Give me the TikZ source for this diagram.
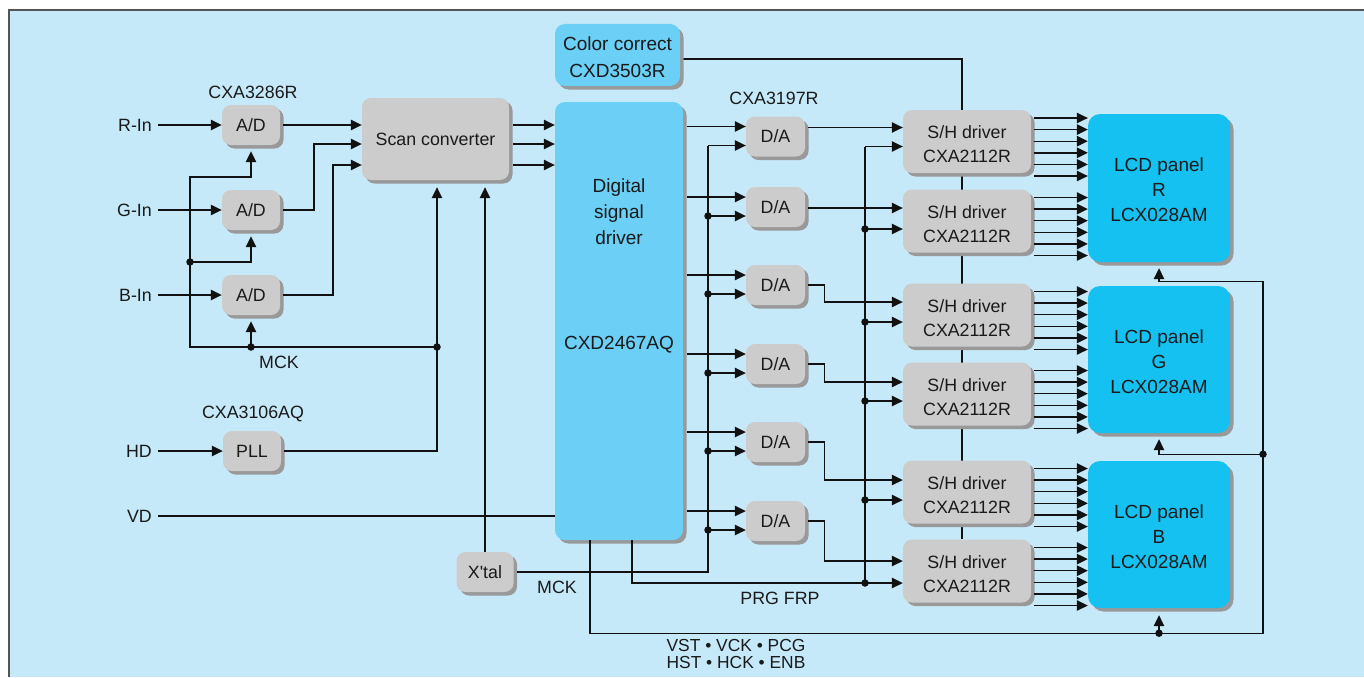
\documentclass[tikz,border=0pt]{standalone}
\usepackage{fontspec}
\setmainfont{Liberation Sans}
\usetikzlibrary{arrows.meta,calc,shadows}
\definecolor{bgblue}{HTML}{C6E9F9}
\definecolor{bordc}{HTML}{555555}
\definecolor{boxg}{HTML}{CCCCCC}
\definecolor{shd}{HTML}{999999}
\definecolor{dsdc}{HTML}{6BCFF6}
\definecolor{lcdc}{HTML}{14C1F1}
\definecolor{txt}{HTML}{1A1A1A}
\definecolor{lnc}{HTML}{111111}
\pgfdeclarelayer{back}
\pgfdeclarelayer{bg}
\pgfsetlayers{back,bg,main}
\begin{document}
\begin{tikzpicture}[x=1pt,y=-1pt,
  font=\fontsize{17.8}{24}\selectfont, text=txt,
  every node/.style={inner sep=0pt},
  shad/.style={drop shadow={shadow xshift=3.5pt,shadow yshift=-3.5pt,fill=shd,opacity=1}},
  gbox/.style={shad, fill=boxg, rounded corners=9pt, align=center},
  bbox/.style={shad, fill=dsdc, rounded corners=10pt, align=center},
  lbox/.style={shad, fill=lcdc, rounded corners=12pt},
  big/.style={font=\fontsize{19}{25}\selectfont, align=center},
  ln/.style={draw=lnc, line width=1.4pt},
  arr/.style={ln, -{Triangle[length=11pt,width=10.5pt]}},
  dot/.style={circle, fill=lnc, minimum size=7.5pt}]
\useasboundingbox (0,0) rectangle (1364,677);
\begin{pgfonlayer}{back}
  \fill[white] (0,0) rectangle (1364,677);
  \fill[bgblue] (9,10) rectangle (1364,677);
  \draw[bordc, line width=2pt] (9,677) -- (9,10) -- (1364,10);
\end{pgfonlayer}

% ---- boxes
\node[gbox, minimum width=58, minimum height=40] (adR) at (251,125) {A/D};
\node[gbox, minimum width=58, minimum height=40] (adG) at (251,210) {A/D};
\node[gbox, minimum width=58, minimum height=40] (adB) at (251,295) {A/D};
\node[gbox, minimum width=58, minimum height=40] (pll) at (252,451) {PLL};
\node[gbox, minimum width=57, minimum height=40] (xtal) at (485,572) {X\textquotesingle tal};
\node[gbox, minimum width=147, minimum height=82] (sc) at (435.5,139) {Scan converter};
\node[bbox, minimum width=128, minimum height=438] (dsd) at (619,321) {};
\node[bbox, minimum width=125, minimum height=62] (cc) at (617.5,55) {};
\foreach \i/\y in {1/136.5,2/207,3/285,4/364,5/442,6/521}
  \node[gbox, minimum width=59, minimum height=40] (da\i) at (775.5,\y) {D/A};
\foreach \i/\y in {1/141.5,2/221,3/315,4/394,5/492,6/571} {
  \node[gbox, minimum width=128, minimum height=63] (sh\i) at (967,\y) {};
  \node[align=center] (sht\i) at ($(sh\i)+(0,3)$) {S/H driver\\CXA2112R};
}
\node[lbox, minimum width=142, minimum height=148] (lcdR) at (1159,188) {};
\node[lbox, minimum width=142, minimum height=147] (lcdG) at (1159,359.5) {};
\node[lbox, minimum width=142, minimum height=147] (lcdB) at (1159,534.5) {};

% ---- texts
\node[big] (ct) at ($(cc)+(0,2.5)$) {Color correct\\[2pt]CXD3503R};
\node[big] (lt1) at ($(lcdR)+(0,2)$) {LCD panel\\R\\LCX028AM};
\node[big] (lt2) at ($(lcdG)+(0,2)$) {LCD panel\\G\\LCX028AM};
\node[big] (lt3) at ($(lcdB)+(0,2)$) {LCD panel\\B\\LCX028AM};
\node[big, font=\fontsize{19}{26}\selectfont] (dt1) at (619,212) {Digital\\signal\\driver};
\node[big] (dt2) at (619,345) {CXD2467AQ};
\node (l1) at (253,92) {CXA3286R};
\node (l2) at (253,414) {CXA3106AQ};
\node (l3) at (774,98) {CXA3197R};
\node (l4) at (279,362) {MCK};
\node (l5) at (557,587) {MCK};
\node (l6) at (780,598) {PRG FRP};
\node[align=center, font=\fontsize{17.4}{17}\selectfont] (l7) at (736,654.5) {VST • VCK • PCG\\HST • HCK • ENB};
\node[anchor=east] (rin) at (152,125) {R-In};
\node[anchor=east] (gin) at (152,210) {G-In};
\node[anchor=east] (bin) at (152,295) {B-In};
\node[anchor=east] (hd) at (152,451) {HD};
\node[anchor=east] (vd) at (152,516) {VD};

% ---- inputs
\draw[arr] ([xshift=6pt]rin.east) -- (rin.east -| adR.west);
\draw[arr] ([xshift=6pt]gin.east) -- (gin.east -| adG.west);
\draw[arr] ([xshift=6pt]bin.east) -- (bin.east -| adB.west);
\draw[arr] ([xshift=6pt]hd.east) -- (hd.east -| pll.west);
\draw[ln] ([xshift=6pt]vd.east) -- (vd.east -| dsd.west);

% ---- A/D -> scan converter
\coordinate (g1) at (314,0);
\coordinate (b1) at (333,0);
\coordinate (sc2) at ($(sc.west)+(0,5)$);
\coordinate (sc3) at ($(sc.west)+(0,26)$);
\draw[arr] ([xshift=3pt]adR.east) -- (adR.east -| sc.west);
\draw[arr] ([xshift=3pt]adG.east) -| (sc2 -| g1) -- (sc2);
\draw[arr] ([xshift=3pt]adB.east) -| (sc3 -| b1) -- (sc3);

% ---- scan converter -> DSD
\foreach \o in {-14,5,26} {
  \coordinate (t) at ($(sc.east)+(4,\o)$);
  \draw[arr] (t) -- (t -| dsd.west);
}

% ---- MCK clock
\coordinate (j1) at (437,347);
\coordinate (mb) at (190,347);
\coordinate (mt) at (190,177);
\coordinate (mm) at (190,262);
\coordinate (sck) at ($(sc.south)+(1.5,7)$);
\draw[arr] (j1) -- (mb) -- (mt) -| ($(adR.south)+(0,6)$);
\draw[arr] (mm) -| ($(adG.south)+(0,6)$);
\draw[arr] (adB.south |- j1) -- ($(adB.south)+(0,6)$);
\draw[arr] ([xshift=3pt]pll.east) -| (sck);
\draw[arr] (xtal.north) -- (xtal.north |- sck);
\node[dot] (dm1) at (mm) {};
\node[dot] (dm2) at (adB.south |- j1) {};
\node[dot] (dm3) at (j1) {};

% ---- D/A inputs
\coordinate (bA) at (708,0);
\foreach \i in {1,...,6} {
  \coordinate (dau\i) at ($(da\i.west)+(0,-10)$);
  \coordinate (dal\i) at ($(da\i.west)+(0,9)$);
}
\draw[ln] ([xshift=3pt]xtal.east) -| (dal1 -| bA);
\foreach \i in {1,...,6} {
  \draw[arr] (dal\i -| bA) -- (dal\i);
  \draw[arr] ($(dau\i -| dsd.east)+(4,0)$) -- (dau\i);
}
\foreach \i in {2,...,6} \node[dot] (dA\i) at (dal\i -| bA) {};

% ---- D/A -> S/H
\foreach \i/\u/\l in {1/-14/5,2/-13/8,3/-13/7,4/-12/7,5/-12/8,6/-10/12} {
  \coordinate (shu\i) at ($(sh\i.west)+(0,\u)$);
  \coordinate (shl\i) at ($(sh\i.west)+(0,\l)$);
}
\draw[arr] ($(shu1 -| da1.east)+(3,0)$) -- (shu1);
\draw[arr] ($(shu2 -| da2.east)+(3,0)$) -- (shu2);
\foreach \i in {3,...,6} \draw[arr] ([xshift=3pt]da\i.east) -- ++(16,0) |- (shu\i);

% ---- PRG FRP bus
\coordinate (bS) at (865,0);
\coordinate (prg) at ($(dsd.south)+(13,0)$);
\draw[arr] (prg) |- (shl6);
\draw[ln] (shl1 -| bS) -- (shl6 -| bS);
\foreach \i in {1,...,5} \draw[arr] (shl\i -| bS) -- (shl\i);
\foreach \i in {2,...,6} \node[dot] (dS\i) at (shl\i -| bS) {};

% ---- S/H -> LCD
\foreach \s/\l in {sh1/lcdR,sh2/lcdR,sh3/lcdG,sh4/lcdG,sh5/lcdB,sh6/lcdB} {
  \foreach \k in {0,...,5} {
    \coordinate (q) at ($(\s.east)+(3,-23.5+11.6*\k)$);
    \draw[arr] (q) -- (q -| \l.west);
  }
}

% ---- panel timing
\coordinate (vb) at ($(dsd.south)+(-29,0)$);
\coordinate (rx) at (1263,0);
\coordinate (cR) at ($(lcdR.south)+(0,19)$);
\coordinate (cG) at ($(lcdG.south)+(0,21)$);
\coordinate (cB) at ($(lcdB.south)+(0,25)$);
\draw[arr] (vb) |- (cB -| rx) |- (cR) -- ($(lcdR.south)+(0,6)$);
\draw[arr] (cG -| rx) -- (cG) -- ($(lcdG.south)+(0,6)$);
\draw[arr] (cB) -- ($(lcdB.south)+(0,7)$);
\node[dot] (dL1) at (cG -| rx) {};
\node[dot] (dL2) at (cB) {};

% ---- color correct line (behind S/H drivers)
\begin{pgfonlayer}{bg}
  \coordinate (shx) at (962,0);
  \coordinate (ce) at ($(cc.east)+(3,4)$);
  \draw[ln] (ce) -- (ce -| shx) -- (shx |- sh6.north);
\end{pgfonlayer}
\end{tikzpicture}
\end{document}
